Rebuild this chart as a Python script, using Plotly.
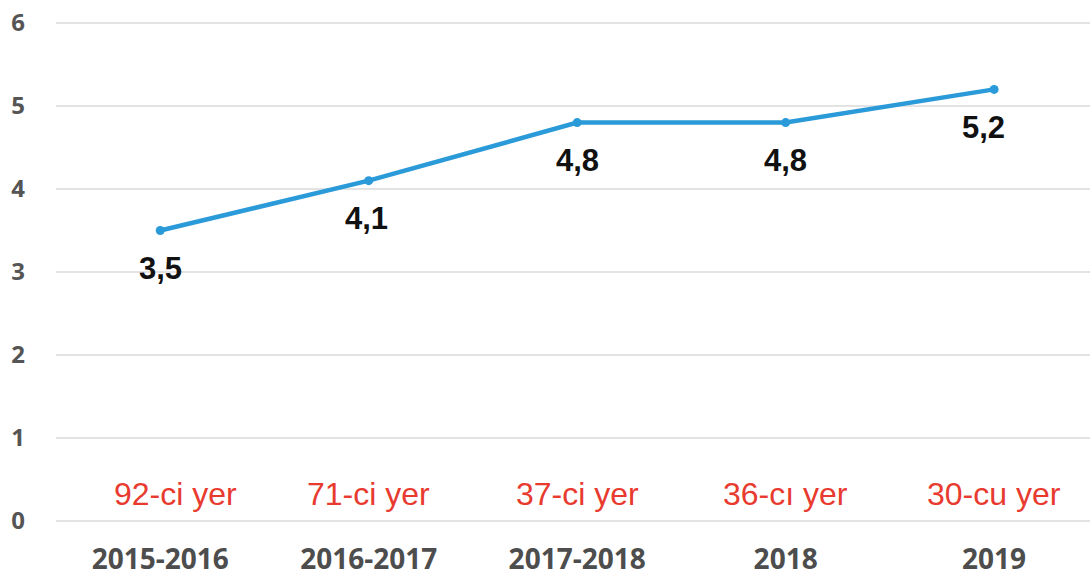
import plotly.graph_objects as go

categories = ["2015-2016", "2016-2017", "2017-2018", "2018", "2019"]
values = [3.5, 4.1, 4.8, 4.8, 5.2]
value_labels = ["3,5", "4,1", "4,8", "4,8", "5,2"]
rank_labels = ["92-ci yer", "71-ci yer", "37-ci yer", "36-cı yer", "30-cu yer"]
rank_y = 0.33
y_ticks = [0, 1, 2, 3, 4, 5, 6]

fig = go.Figure()
fig.add_trace(go.Scatter(
    x=list(range(len(categories))), y=values, mode="lines+markers",
    line=dict(color="#2B9AD8", width=4.5),
    marker=dict(color="#2B9AD8", size=9),
    hoverinfo="skip", showlegend=False,
))

label_xshift = [0, -2, 0, 0, -11]
for i, (v, t) in enumerate(zip(values, value_labels)):
    fig.add_annotation(x=i, y=v, text=f"<b>{t}</b>", showarrow=False,
                       yshift=-38, xshift=label_xshift[i],
                       font=dict(family="Liberation Sans, Arial", size=31, color="#111111"))

rank_xshift = [15, 0, 0, 0, 0]
for i, t in enumerate(rank_labels):
    fig.add_annotation(x=i, y=rank_y, text=t, showarrow=False, xshift=rank_xshift[i],
                       font=dict(family="Liberation Sans, Arial", size=32, color="#E83A2F"))

fig.update_layout(
    width=1090, height=575,
    margin=dict(l=56, r=0, t=18, b=49),
    plot_bgcolor="white", paper_bgcolor="white",
    xaxis=dict(tickmode="array", tickvals=list(range(len(categories))), ticktext=categories,
               range=[-0.5, 4.46], showgrid=False, zeroline=False, showline=False,
               ticks="", ticklabelstandoff=14, automargin=False,
               tickfont=dict(family="Open Sans", size=28, color="#4D4D4D", weight="bold")),
    yaxis=dict(range=[-0.06, 6.06], tickvals=y_ticks, showgrid=True, gridcolor="#E3E3E3",
               gridwidth=2, zeroline=False, showline=False, ticks="", ticklabelstandoff=30,
               automargin=False,
               tickfont=dict(family="Open Sans", size=24, color="#555555", weight="bold")),
)

fig.write_html("out.html", config={"displayModeBar": False},
               post_script="document.body.style.margin='0';document.body.style.overflow='hidden';")
